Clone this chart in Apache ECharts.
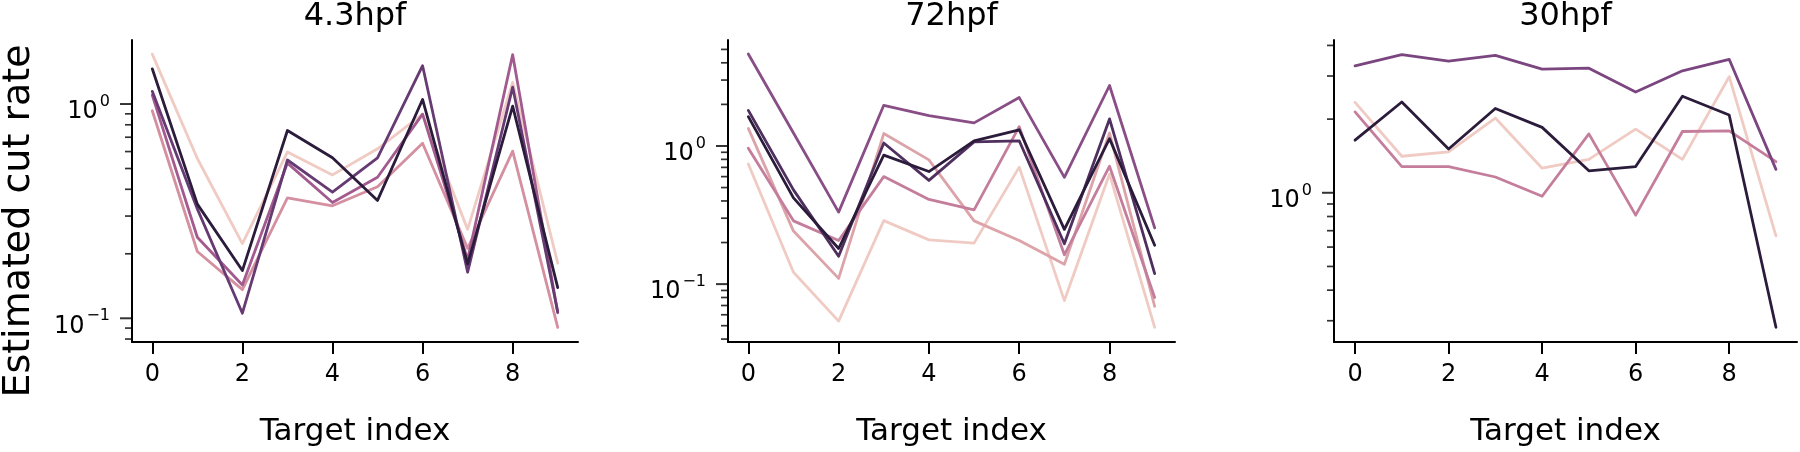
<!DOCTYPE html>
<html>
<head>
<meta charset="utf-8">
<script src="https://cdn.jsdelivr.net/npm/echarts@6.0.0/dist/echarts.min.js"></script>
<style>
html,body{margin:0;padding:0;background:#fff;}
#chart{width:1800px;height:452px;}
</style>
</head>
<body>
<div id="chart"></div>
<script>
// ---------------- data ----------------
const targetIndex = [0, 1, 2, 3, 4, 5, 6, 7, 8, 9];
const panelTitles = ['4.3hpf', '72hpf', '30hpf'];
const xTickValues = [0, 2, 4, 6, 8];
const xLabel = 'Target index';
const yLabel = 'Estimated cut rate';

// panel 1 : 4.3hpf
const p1Light   = [1.71, 0.557, 0.223, 0.597, 0.467, 0.618, 0.897, 0.260, 1.26, 0.181];
const p1Pink    = [0.93, 0.205, 0.136, 0.365, 0.335, 0.411, 0.656, 0.212, 0.603, 0.0906];
const p1Magenta = [1.10, 0.239, 0.143, 0.530, 0.347, 0.455, 0.897, 0.188, 1.70, 0.106];
const p1Purple  = [1.146, 0.324, 0.1056, 0.548, 0.388, 0.561, 1.51, 0.164, 1.20, 0.107];
const p1Dark    = [1.46, 0.341, 0.167, 0.752, 0.561, 0.355, 1.05, 0.179, 0.977, 0.139];

// panel 2 : 72hpf
const p2Light   = [0.741, 0.122, 0.054, 0.288, 0.209, 0.198, 0.703, 0.076, 0.626, 0.0486];
const p2Pink    = [1.34, 0.242, 0.110, 1.23, 0.793, 0.287, 0.207, 0.139, 1.24, 0.069];
const p2MidPink = [0.964, 0.287, 0.207, 0.600, 0.410, 0.345, 1.38, 0.163, 0.714, 0.080];
const p2Purple  = [4.63, 1.24, 0.332, 1.97, 1.66, 1.47, 2.24, 0.593, 2.74, 0.255];
const p2DkPurple= [1.81, 0.481, 0.159, 1.05, 0.563, 1.07, 1.09, 0.196, 1.57, 0.119];
const p2Dark    = [1.63, 0.421, 0.181, 0.859, 0.653, 1.09, 1.31, 0.249, 1.13, 0.191];

// panel 3 : 30hpf
const p3Light   = [2.34, 1.41, 1.47, 2.02, 1.26, 1.37, 1.82, 1.37, 2.98, 0.667];
const p3Pink    = [2.14, 1.28, 1.28, 1.16, 0.968, 1.74, 0.81, 1.78, 1.79, 1.34];
const p3Purple  = [3.30, 3.67, 3.45, 3.64, 3.20, 3.23, 2.58, 3.15, 3.51, 1.246];
const p3Dark    = [1.64, 2.35, 1.51, 2.21, 1.85, 1.23, 1.28, 2.48, 2.08, 0.282];

// log-axis ticks
const yMajor1 = [0.1, 1];
const yMinor1 = [0.08, 0.09, 0.2, 0.3, 0.4, 0.5, 0.6, 0.7, 0.8, 0.9];
const yMajor2 = [0.1, 1];
const yMinor2 = [0.04, 0.05, 0.06, 0.07, 0.08, 0.09, 0.2, 0.3, 0.4, 0.5, 0.6, 0.7, 0.8, 0.9, 2, 3, 4, 5];
const yMajor3 = [1];
const yMinor3 = [0.3, 0.4, 0.5, 0.6, 0.7, 0.8, 0.9, 2, 3, 4];

// ---------------- styling / layout ----------------
const FONT = 'DejaVu Sans';
const X_MIN = -0.45, X_MAX = 9.45;
const C = {
  light: '#efcbc4', pink: '#d48fa0', pink2: '#dca3a9', midPink: '#c47e9c', magenta: '#a25a8f',
  purple2: '#8a4e87', purple3: '#7b4680', purple: '#663a73', dkPurple: '#4f2f5e', dark: '#2b1c3c'
};

const panels = [
  { grid: {left: 132, top: 40, width: 446, height: 318}, yMin: 0.0775, yMax: 1.99,
    major: yMajor1, minor: yMinor1,
    series: [[p1Light, C.light], [p1Pink, C.pink], [p1Magenta, C.magenta], [p1Purple, C.purple], [p1Dark, C.dark]] },
  { grid: {left: 728, top: 40, width: 447, height: 318}, yMin: 0.0381, yMax: 5.85,
    major: yMajor2, minor: yMinor2,
    series: [[p2Light, C.light], [p2Pink, C.pink2], [p2MidPink, C.midPink], [p2Purple, C.purple2], [p2DkPurple, C.dkPurple], [p2Dark, C.dark]] },
  { grid: {left: 1334, top: 40, width: 463, height: 318}, yMin: 0.2456, yMax: 4.21,
    major: yMajor3, minor: yMinor3,
    series: [[p3Light, C.light], [p3Pink, C.midPink], [p3Purple, C.purple3], [p3Dark, C.dark]] }
];

function supText(e) {
  const s = e < 0 ? '\u2212' + (-e) : String(e);
  return '{b|10}{s|' + s + '}';
}

const option = {
  animation: false,
  backgroundColor: '#fff',
  textStyle: {fontFamily: FONT},
  title: [], grid: [], xAxis: [], yAxis: [], series: [],
  graphic: [{
    type: 'text', x: 19, y: 221, rotation: Math.PI / 2,
    style: {text: yLabel, fontSize: 38, fontFamily: FONT, fill: '#000', align: 'center', verticalAlign: 'middle'}
  }]
};

panels.forEach((p, i) => {
  const g = p.grid;
  option.grid.push({left: g.left, top: g.top, width: g.width, height: g.height, show: false, containLabel: false});
  option.title.push({
    text: panelTitles[i], left: g.left + g.width / 2, top: 1, textAlign: 'center', padding: 0,
    textStyle: {fontSize: 32, fontWeight: 'normal', color: '#000', fontFamily: FONT}
  });
  option.xAxis.push({
    type: 'value', gridIndex: i, min: X_MIN, max: X_MAX,
    axisLine: {show: true, onZero: false, lineStyle: {color: '#000', width: 2}},
    axisTick: {show: true, customValues: xTickValues, length: 12, lineStyle: {color: '#000', width: 2}},
    axisLabel: {show: true, customValues: xTickValues, fontSize: 24, color: '#000', margin: 21, fontFamily: FONT},
    splitLine: {show: false},
    name: xLabel, nameLocation: 'middle', nameGap: 74,
    nameTextStyle: {fontSize: 31, color: '#000', fontFamily: FONT}
  });
  // data axis (log scale) with axis line
  option.yAxis.push({
    type: 'log', logBase: 10, gridIndex: i, min: p.yMin, max: p.yMax, position: 'left',
    axisLine: {show: true, onZero: false, lineStyle: {color: '#000', width: 2}},
    axisTick: {show: false},
    axisLabel: {show: false},
    splitLine: {show: false}
  });
  // companion axis in log10 space: major labels
  option.yAxis.push({
    type: 'value', gridIndex: i, min: Math.log10(p.yMin), max: Math.log10(p.yMax), position: 'left',
    axisLine: {show: false, onZero: false},
    axisTick: {show: false},
    axisLabel: {
      show: true, customValues: p.major.map(Math.log10), margin: 22, padding: [10, 0, 0, 0],
      formatter: v => supText(Math.round(v)),
      rich: {
        b: {fontSize: 24, color: '#000', fontFamily: FONT, verticalAlign: 'bottom', lineHeight: 30},
        s: {fontSize: 16, color: '#000', fontFamily: FONT, verticalAlign: 'top', padding: [0, 0, 0, 2]}
      }
    },
    splitLine: {show: false}
  });
  // data lines
  p.series.forEach(([vals, col]) => {
    option.series.push({
      type: 'line', xAxisIndex: i, yAxisIndex: i * 2,
      data: targetIndex.map((x, k) => [x, vals[k]]),
      showSymbol: false, symbol: 'none', silent: true,
      lineStyle: {color: col, width: 2.8, join: 'round', cap: 'round'}
    });
  });
  // y tick marks placed through the log axis (drawn just left of the axis line)
  option.series.push({
    type: 'scatter', xAxisIndex: i, yAxisIndex: i * 2, clip: false, silent: true, z: 5,
    data: p.major.map(v => [X_MIN, v]),
    symbol: 'rect', symbolSize: [12, 2], symbolOffset: [-6, 0],
    itemStyle: {color: '#000'}
  });
  option.series.push({
    type: 'scatter', xAxisIndex: i, yAxisIndex: i * 2, clip: false, silent: true, z: 5,
    data: p.minor.map(v => [X_MIN, v]),
    symbol: 'rect', symbolSize: [7, 1.7], symbolOffset: [-3.5, 0],
    itemStyle: {color: '#000'}
  });
});

const chart = echarts.init(document.getElementById('chart'), null, {renderer: 'canvas'});
chart.setOption(option);
</script>
</body>
</html>
